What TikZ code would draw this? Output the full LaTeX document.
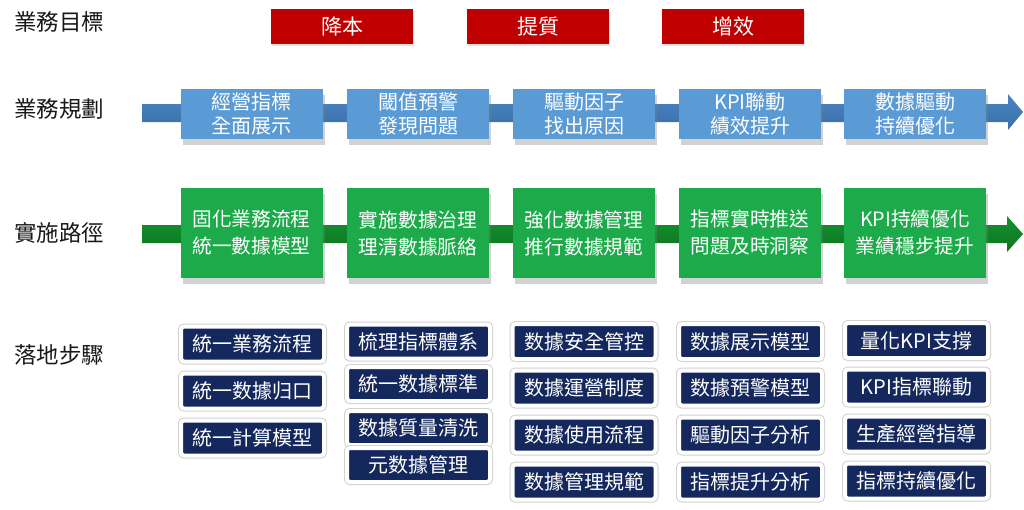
\documentclass[tikz,border=0pt]{standalone}
\usepackage{fontspec}
\setmainfont{Noto Sans CJK TC}
\usetikzlibrary{shadows}
\definecolor{goalred}{HTML}{C00000}
\definecolor{planblue}{HTML}{5B9BD5}
\definecolor{shaftblue}{HTML}{4A85C2}
\definecolor{shaftbluedark}{HTML}{3A6FA8}
\definecolor{pathgreen}{HTML}{1DAA4A}
\definecolor{shaftgreen}{HTML}{14932F}
\definecolor{shaftgreendark}{HTML}{0C7420}
\definecolor{stepnavy}{HTML}{15285E}
\tikzset{
  lbl/.style={anchor=west, inner sep=0pt, font=\fontsize{22.5}{26}\selectfont, text=black!90},
  redbox/.style={fill=goalred, text=white, minimum width=142pt, minimum height=35pt, inner sep=0pt,
    font=\fontsize{21}{24}\selectfont, drop shadow={shadow xshift=1pt, shadow yshift=-2pt, opacity=0.25}},
  bluebox/.style={fill=planblue, text=white, minimum width=142pt, minimum height=50pt, inner sep=0pt,
    align=center, font=\fontsize{20}{24}\selectfont,
    drop shadow={shadow xshift=2pt, shadow yshift=-6pt, opacity=0.35}},
  greenbox/.style={fill=pathgreen, text=white, minimum width=142pt, minimum height=90pt, inner sep=0pt,
    align=center, font=\fontsize{19.7}{27}\selectfont,
    drop shadow={shadow xshift=2pt, shadow yshift=-6pt, opacity=0.35}},
  navybox/.style={fill=stepnavy, text=white, draw=white, line width=4pt, rounded corners=3pt,
    minimum height=35pt, inner sep=0pt, font=\fontsize{20}{22}\selectfont,
    preaction={draw=black!18, line width=6pt}},
}
\begin{document}
\begin{tikzpicture}[x=1pt,y=-1pt]
\useasboundingbox (0,0) rectangle (1024,509);
\fill[white] (0,0) rectangle (1024,509);

% row labels
\node[lbl] (l1) at (14,22) {業務目標};
\node[lbl] (l2) at (14,109) {業務規劃};
\node[lbl] (l3) at (14,233) {實施路徑};
\node[lbl] (l4) at (14,355) {落地步驟};

% goals
\node[redbox] (g1) at (342,26.5) {降本};
\node[redbox] (g2) at (538,26.5) {提質};
\node[redbox] (g3) at (733,26.5) {增效};

% blue arrow band
\coordinate (bs) at (142,113);
\coordinate (bt) at (1023,112);
\shade[top color=shaftblue, bottom color=shaftbluedark]
  (142,104) -- (1008,104) -- (1008,94) -- (bt) -- (1008,130) -- (1008,122) -- (142,122) -- cycle;

\node[bluebox] (p1) at (251.5,114) {經營指標\\全面展示};
\node[bluebox] (p2) at (418,114) {閾值預警\\發現問題};
\node[bluebox] (p3) at (584,114) {驅動因子\\找出原因};
\node[bluebox] (p4) at (750,114) {KPI聯動\\績效提升};
\node[bluebox] (p5) at (915,114) {數據驅動\\持續優化};

% green arrow band
\coordinate (gs) at (142,234);
\coordinate (gt) at (1023,234);
\shade[top color=shaftgreen, bottom color=shaftgreendark]
  (142,225) -- (1007,225) -- (1007,216) -- (gt) -- (1007,252) -- (1007,243) -- (142,243) -- cycle;

\node[greenbox] (q1) at (251.5,233) {固化業務流程\\統一數據模型};
\node[greenbox] (q2) at (418,233) {實施數據治理\\理清數據脈絡};
\node[greenbox] (q3) at (584,233) {強化數據管理\\推行數據規範};
\node[greenbox] (q4) at (750,233) {指標實時推送\\問題及時洞察};
\node[greenbox] (q5) at (915,233) {KPI持續優化\\業績穩步提升};

% steps
\begin{scope}[navybox/.append style={minimum width=143pt}]
\node[navybox] (s11) at (252.5,344) {統一業務流程};
\node[navybox] (s12) at (252.5,391) {統一数據归口};
\node[navybox] (s13) at (252.5,438) {統一計算模型};

\node[navybox, minimum height=34pt] (s21) at (418.5,341.5) {梳理指標體系};
\node[navybox, minimum height=34pt] (s22) at (418.5,384) {統一数據標準};
\node[navybox, minimum height=34pt] (s23) at (418.5,428) {数據質量清洗};
\node[navybox, minimum height=34pt] (s24) at (418.5,465) {元数據管理};

\node[navybox] (s31) at (584,341.5) {数據安全管控};
\node[navybox] (s32) at (584,388) {数據運營制度};
\node[navybox] (s33) at (584,435) {数據使用流程};
\node[navybox] (s34) at (584,482) {数據管理規範};

\node[navybox] (s41) at (750.5,341.5) {数據展示模型};
\node[navybox] (s42) at (750.5,388) {数據預警模型};
\node[navybox] (s43) at (750.5,435) {驅動因子分析};
\node[navybox] (s44) at (750.5,482) {指標提升分析};

\node[navybox] (s51) at (916.5,340.5) {量化KPI支撐};
\node[navybox] (s52) at (916.5,387) {KPI指標聯動};
\node[navybox] (s53) at (916.5,434) {生產經營指導};
\node[navybox] (s54) at (916.5,481) {指標持續優化};
\end{scope}
\end{tikzpicture}
\end{document}
